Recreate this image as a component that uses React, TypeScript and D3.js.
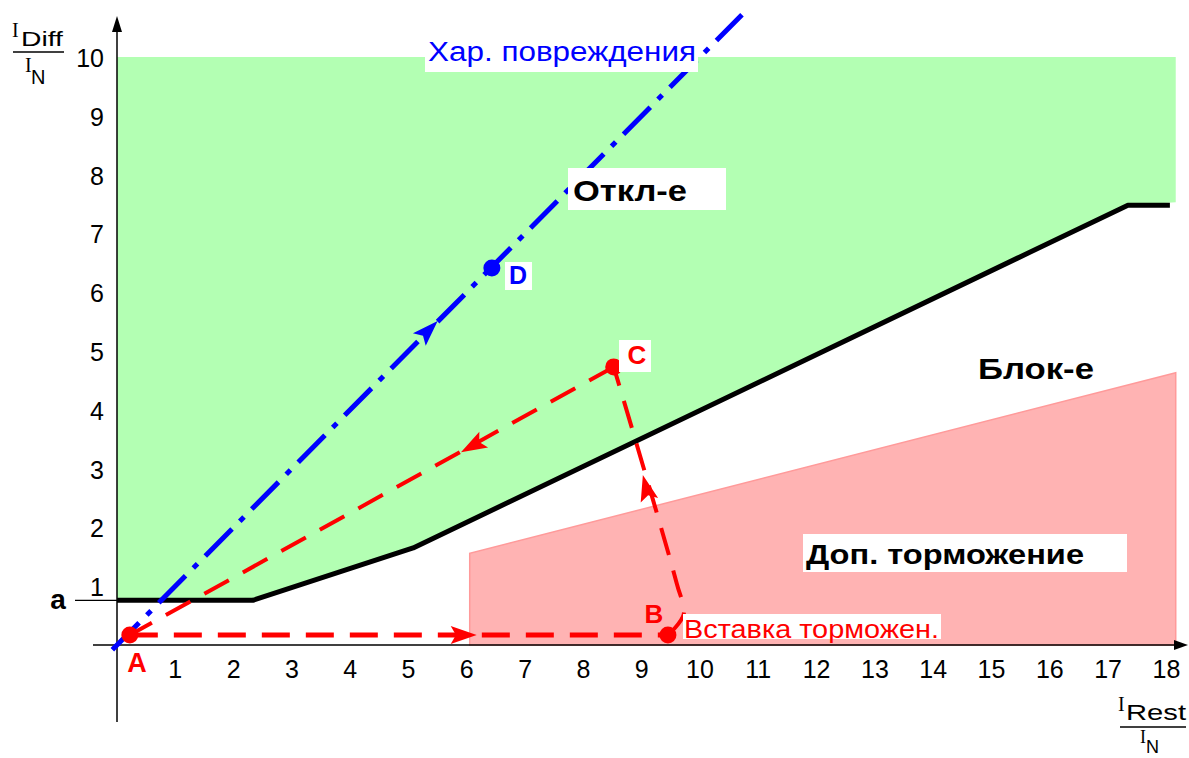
import React from "react";
import * as d3 from "d3";

const W = 1189;
const H = 758;

const xTicks = [1, 2, 3, 4, 5, 6, 7, 8, 9, 10, 11, 12, 13, 14, 15, 16, 17, 18];
const yTicks = [1, 2, 3, 4, 5, 6, 7, 8, 9, 10];
const aLevel = 0.76;

// Tripping characteristic (black line)
const tripCurve: [number, number][] = [
  [0, 0.76],
  [2.33, 0.76],
  [5.08, 1.65],
  [17.34, 7.48],
  [18.06, 7.48],
];
const greenTop = 10;
const greenRight = 18.16;
const greenRightBottom = 7.53;

// Add-on stabilisation zone (pink)
const brakeZone: [number, number][] = [
  [6.05, 0],
  [6.05, 1.56],
  [18.16, 4.63],
  [18.16, 0],
];

// Fault characteristic (blue)
const faultLine: [number, number][] = [
  [-0.08, -0.08],
  [10.72, 10.72],
];

const ptA: [number, number] = [0.22, 0.17];
const ptB: [number, number] = [9.45, 0.17];
const ptC: [number, number] = [8.52, 4.73];
const ptD: [number, number] = [6.43, 6.41];
const curveBC: [number, number][] = [ptB, [9.72, 0.52], [9.6, 1.05], ptC];

const arrowsRed = [
  { tip: [6.17, 0.17], dir: [1, 0] },
  { tip: [5.9, 3.28], dir: [-(8.52 - 0.22), -(4.73 - 0.17)] },
  { tip: [9.02, 2.89], dir: [-0.95, 3.62] },
];
const arrowsBlue = [{ tip: [5.5, 5.51], dir: [1, 1] }];

const FONT = "'Liberation Sans', Arial, Helvetica, sans-serif";
const SERIF = "'Liberation Serif', 'Times New Roman', serif";

export default function App() {
  const x = d3.scaleLinear().domain([0, 18]).range([117, 1166.4]);
  const y = d3.scaleLinear().domain([0, 10]).range([645, 57]);
  const line = d3
    .line<[number, number]>()
    .x((d) => x(d[0]))
    .y((d) => y(d[1]));
  const curve = d3
    .line<[number, number]>()
    .x((d) => x(d[0]))
    .y((d) => y(d[1]))
    .curve(d3.curveCatmullRom.alpha(0.5));

  const greenPoly: [number, number][] = [
    [0, greenTop],
    [greenRight, greenTop],
    [greenRight, greenRightBottom],
    [17.34, 7.48],
    [5.08, 1.65],
    [2.33, 0.76],
    [0, 0.76],
  ];

  const arrowHead = (
    a: { tip: number[]; dir: number[] },
    color: string,
    len: number,
    half: number,
    key: string
  ) => {
    const tx = x(a.tip[0]);
    const ty = y(a.tip[1]);
    const dx = x(a.dir[0]) - x(0);
    const dy = y(a.dir[1]) - y(0);
    const ang = (Math.atan2(dy, dx) * 180) / Math.PI;
    return (
      <path
        key={key}
        d={`M0,0 L${-len},${-half} L${-len * 0.8},0 L${-len},${half} Z`}
        fill={color}
        transform={`translate(${tx},${ty}) rotate(${ang})`}
      />
    );
  };

  return (
    <svg
      width={W}
      height={H}
      style={{ position: "absolute", left: 0, top: 0, background: "#fff" }}
      fontFamily={FONT}
    >
      {/* zones */}
      <path d={line(greenPoly) + "Z"} fill="#b3ffb3" />
      <path d={line(brakeZone) + "Z"} fill="#ffb3b3" stroke="#ff9a9a" strokeWidth={1.5} />

      {/* axes */}
      <line x1={93} x2={1178} y1={y(0)} y2={y(0)} stroke="#000" strokeWidth={1.5} />
      <path d={`M1188,${y(0)} L1174,${y(0) - 5} L1174,${y(0) + 5} Z`} fill="#000" />
      <line x1={117} x2={117} y1={722} y2={28} stroke="#000" strokeWidth={1.5} />
      <path d={`M117,16 L112,32 L122,32 Z`} fill="#000" />
      <line x1={75} x2={117} y1={y(aLevel)} y2={y(aLevel)} stroke="#000" strokeWidth={1.2} />
      <text x={58} y={y(aLevel) + 9} fontSize={28} fontWeight="bold" textAnchor="middle">a</text>

      {/* ticks */}
      {xTicks.map((t) => (
        <text key={"x" + t} x={x(t)} y={678} fontSize={25} textAnchor="middle">{t}</text>
      ))}
      {yTicks.map((t) => (
        <text key={"y" + t} x={104} y={y(t) + 10} fontSize={25} textAnchor="end">{t}</text>
      ))}

      {/* tripping characteristic */}
      <path d={line(tripCurve) ?? ""} fill="none" stroke="#000" strokeWidth={5} strokeLinejoin="round" />

      {/* fault characteristic */}
      <path
        d={line(faultLine) ?? ""}
        fill="none"
        stroke="#0000ff"
        strokeWidth={5}
        strokeDasharray="38 11 6 11"
      />
      {arrowsBlue.map((a, i) => arrowHead(a, "#0000ff", 26, 9, "b" + i))}

      {/* red path */}
      <path d={line([ptA, ptB]) ?? ""} fill="none" stroke="#ff0000" strokeWidth={5} strokeDasharray="28 16" />
      <path d={curve(curveBC) ?? ""} fill="none" stroke="#ff0000" strokeWidth={4} strokeDasharray="28 16" />
      <path d={line([ptC, ptA]) ?? ""} fill="none" stroke="#ff0000" strokeWidth={4} strokeDasharray="28 16" />
      {arrowsRed.map((a, i) => arrowHead(a, "#ff0000", 26, 9, "r" + i))}

      {/* points */}
      <circle cx={x(ptA[0])} cy={y(ptA[1])} r={8.5} fill="#ff0000" />
      <circle cx={x(ptB[0])} cy={y(ptB[1])} r={8.5} fill="#ff0000" />
      <circle cx={x(ptC[0])} cy={y(ptC[1])} r={8.5} fill="#ff0000" />
      <circle cx={x(ptD[0])} cy={y(ptD[1])} r={8.5} fill="#0000ff" />

      {/* point labels */}
      <text x={137} y={672} fontSize={27} fontWeight="bold" fill="#ff0000" textAnchor="middle">A</text>
      <text x={654} y={623} fontSize={26} fontWeight="bold" fill="#ff0000" textAnchor="middle">B</text>
      <rect x={619} y={340} width={32} height={32} fill="#fff" />
      <text x={637} y={364} fontSize={26} fontWeight="bold" fill="#ff0000" textAnchor="middle">C</text>
      <rect x={505} y={262} width={27} height={28} fill="#fff" />
      <text x={518} y={284} fontSize={25} fontWeight="bold" fill="#0000ff" textAnchor="middle">D</text>

      {/* zone labels */}
      <rect x={425} y={38} width={273} height={34} fill="#fff" />
      <text x={428} y={61} fontSize={27} fill="#0000ff" textLength={268} lengthAdjust="spacingAndGlyphs">Хар. повреждения</text>

      <rect x={568} y={168} width={158} height={42} fill="#fff" />
      <text x={573} y={201} fontSize={30} fontWeight="bold" textLength={114} lengthAdjust="spacingAndGlyphs">Откл-е</text>

      <text x={978} y={379} fontSize={30} fontWeight="bold" textLength={116} lengthAdjust="spacingAndGlyphs">Блок-е</text>

      <rect x={803} y={534} width={324} height={38} fill="#fff" />
      <text x={806} y={564} fontSize={28} fontWeight="bold" textLength={278} lengthAdjust="spacingAndGlyphs">Доп. торможение</text>

      <rect x={683} y={614} width={258} height={25} fill="#fff" />
      <text x={684} y={638} fontSize={25} fill="#ff0000" textLength={255} lengthAdjust="spacingAndGlyphs">Вставка торможен.</text>

      {/* axis titles */}
      <text x={12} y={37} fontSize={20} fontFamily={SERIF}>I</text>
      <text x={21} y={46} fontSize={20} textLength={42} lengthAdjust="spacingAndGlyphs">Diff</text>
      <line x1={13} x2={64} y1={52} y2={52} stroke="#000" strokeWidth={1.5} />
      <text x={25} y={72} fontSize={20} fontFamily={SERIF}>I</text>
      <text x={31} y={84} fontSize={20}>N</text>

      <text x={1118} y={711} fontSize={20} fontFamily={SERIF}>I</text>
      <text x={1126} y={720} fontSize={22} textLength={60} lengthAdjust="spacingAndGlyphs">Rest</text>
      <line x1={1120} x2={1186} y1={727} y2={727} stroke="#000" strokeWidth={1.5} />
      <text x={1140} y={743} fontSize={18} fontFamily={SERIF}>I</text>
      <text x={1146} y={753} fontSize={18}>N</text>
    </svg>
  );
}
